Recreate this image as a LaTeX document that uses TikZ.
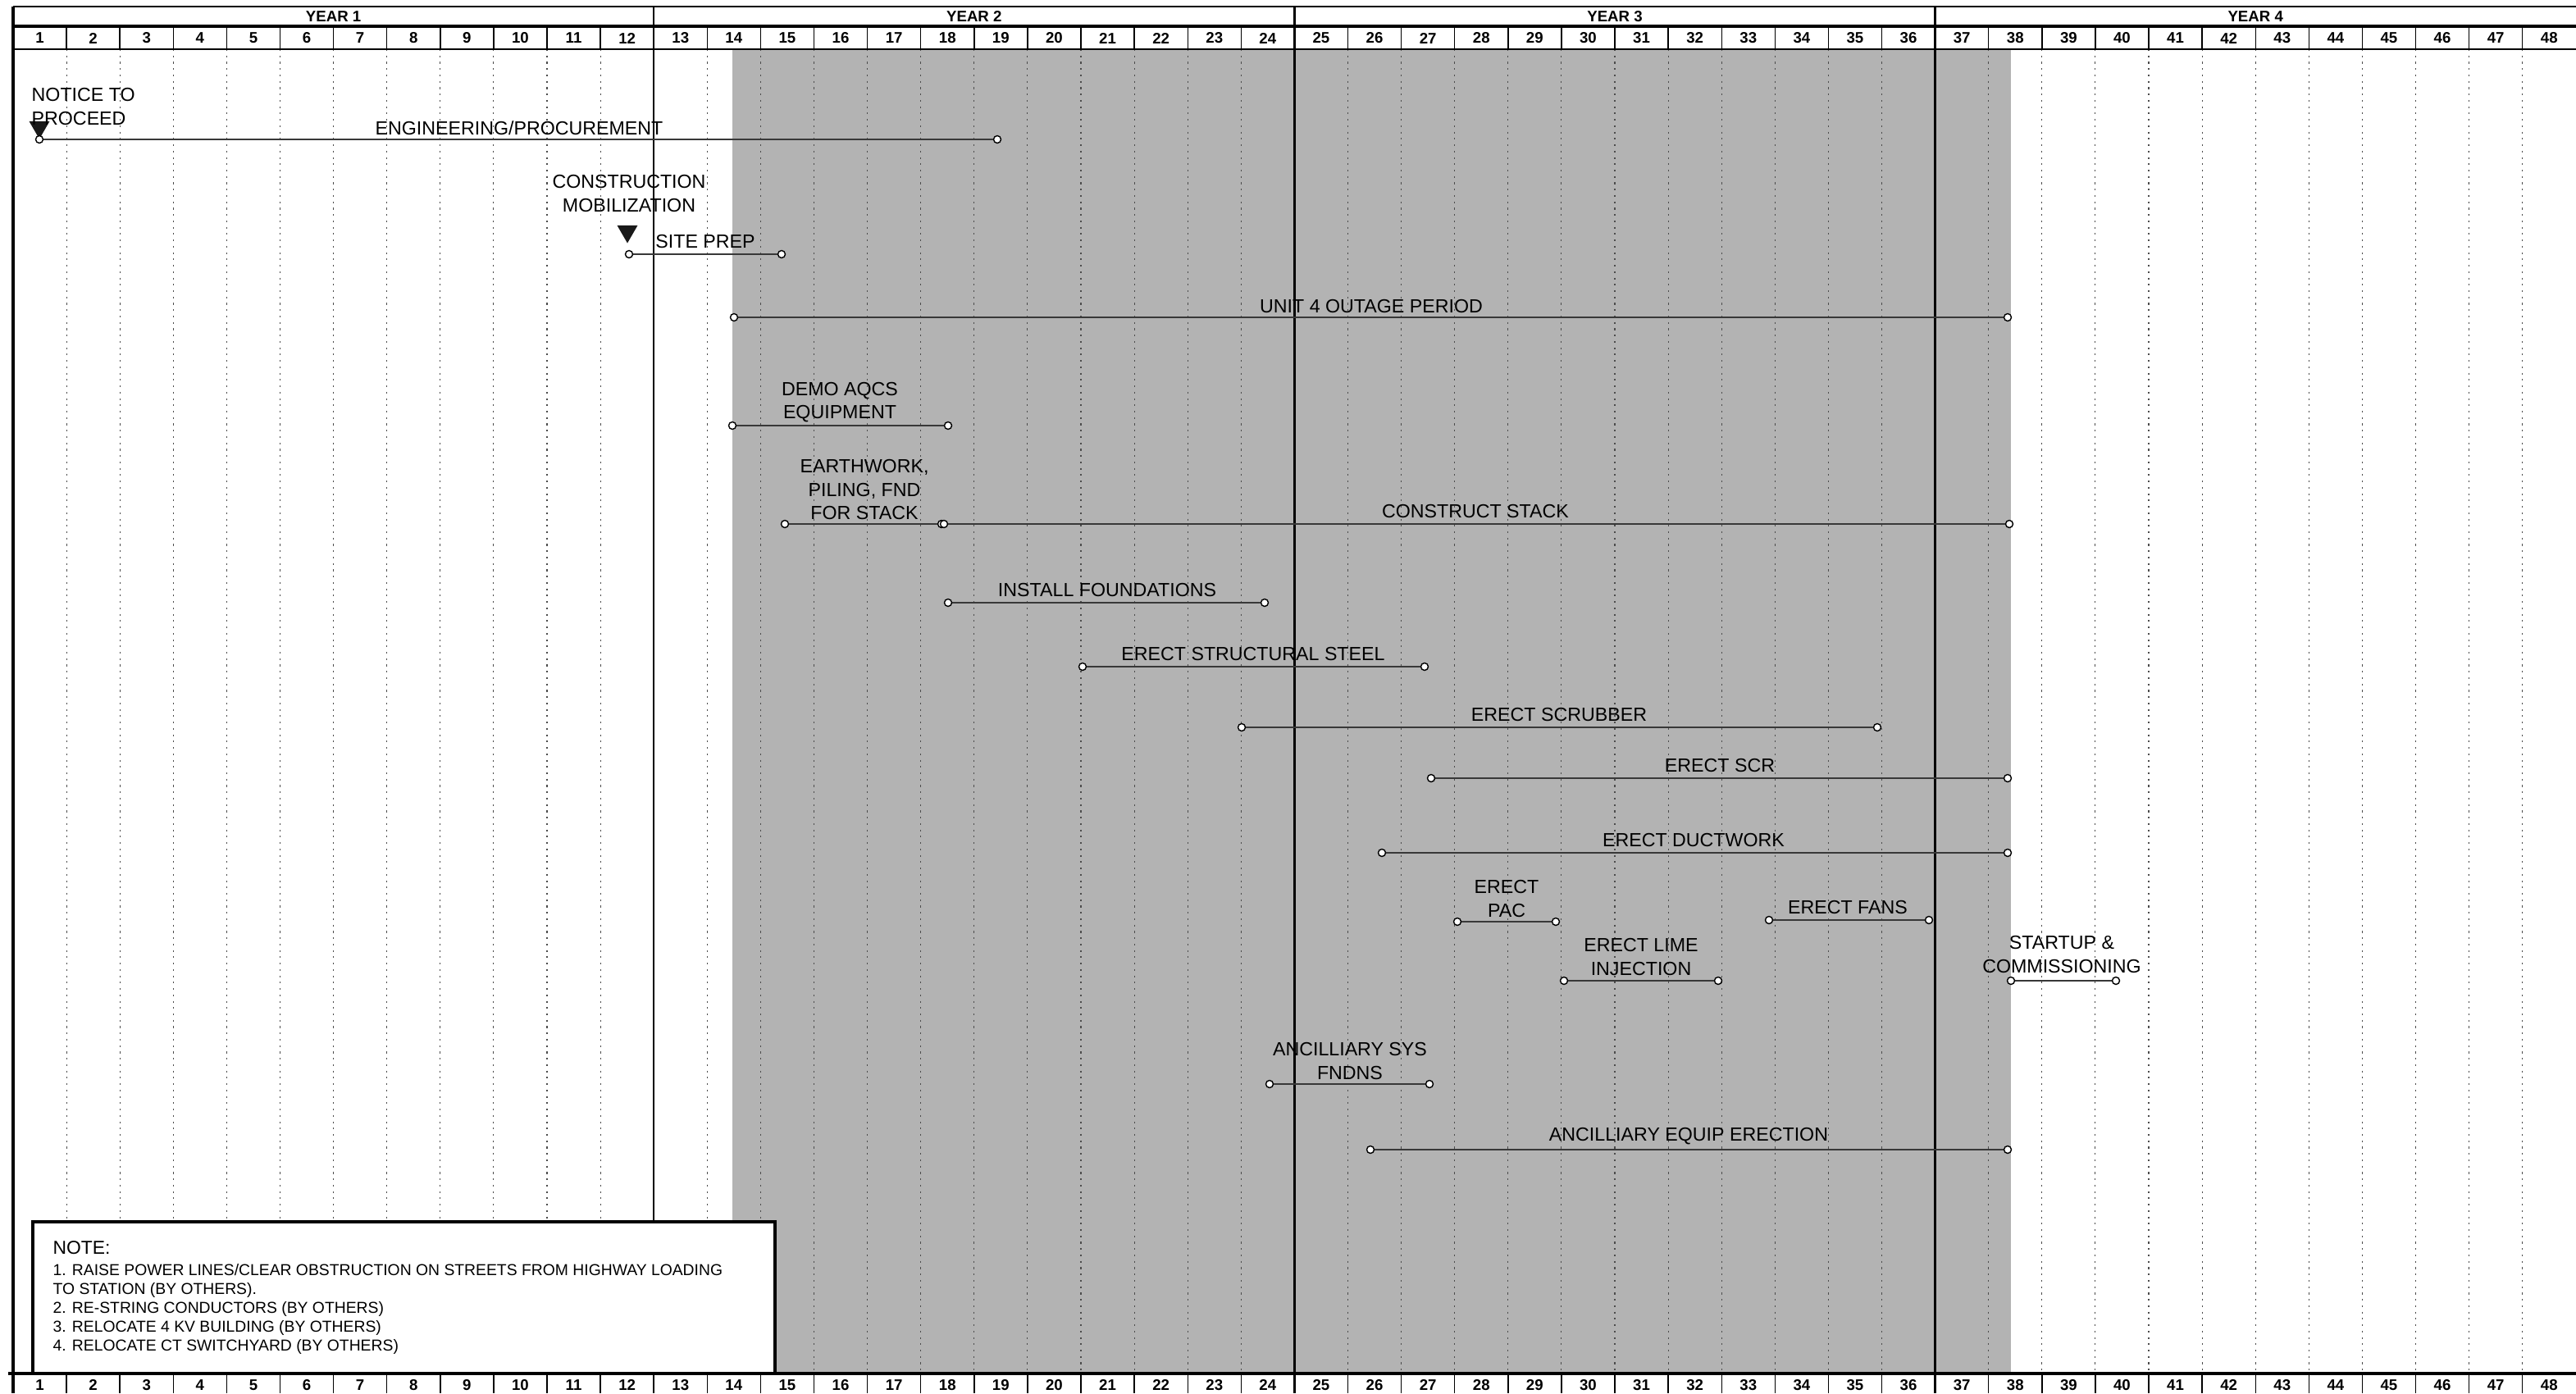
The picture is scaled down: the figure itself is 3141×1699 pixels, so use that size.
\documentclass[tikz,border=0pt]{standalone}
\usepackage{fontspec}
\setmainfont{Liberation Sans}
\usetikzlibrary{shapes.geometric}
\definecolor{outagegray}{RGB}{179,179,179}
\begin{document}
\begin{tikzpicture}[x=0.01cm,y=-0.01cm,
  lbl/.style={font=\fontsize{6.6}{8}\selectfont, align=center, inner sep=0pt},
  hdr/.style={font=\bfseries\fontsize{5.3}{6}\selectfont, inner sep=0pt},
  dot/.style={circle, draw=black, fill=white, inner sep=0pt, minimum size=0.09cm, line width=0.4pt},
  bar/.style={line width=0.55pt, draw=black!78},
  griddot/.style={line width=0.3pt, dash pattern=on 0.6pt off 1.6pt, draw=black!70},
  mile/.style={regular polygon, regular polygon sides=3, shape border rotate=180, fill=black!90, inner sep=0pt, minimum size=0.29cm},
  notebox/.style={draw=black, fill=white, line width=1.2pt}]
\useasboundingbox (0,0) rectangle (3141,1699);
% shaded outage region
\fill[outagegray] (893,60) rectangle (2452,1675);
% grid
\foreach \k in {1,...,47}{
  \pgfmathsetmacro\xx{16+65.1*\k}
  \draw[griddot] (\xx,60) -- (\xx,1675);
  \draw[line width=0.4pt] (\xx,32) -- (\xx,60);
  \draw[line width=0.4pt] (\xx,1675) -- (\xx,1699);
}
\foreach \k in {12,24,36}{
  \pgfmathsetmacro\xx{16+65.1*\k}
  \draw[line width=0.7pt] (\xx,8) -- (\xx,1699);
}
\draw[line width=0.6pt] (16,8) -- (3141,8);
\draw[line width=1.1pt] (16,32) -- (3141,32);
\draw[line width=0.7pt] (16,60) -- (3141,60);
\draw[line width=1.1pt] (10,1675) -- (3141,1675);
\draw[line width=1.1pt] (16,8) -- (16,1699);
% header labels
\foreach \n in {1,...,4}{
  \node[hdr] (yr\n) at ({16+65.1*(12*\n-6)},20) {YEAR \n};
}
\foreach \k in {1,...,48}{
  \node[hdr] (mt\k) at ({16+65.1*(\k-0.5)},46.5) {\k};
  \node[hdr] (mb\k) at ({16+65.1*(\k-0.5)},1689) {\k};
}
% milestones
\node[mile] (ntpm) at (48,155) {};
\node[lbl, align=left, anchor=west] (ntpl) at (38,130) {NOTICE TO\\PROCEED};
\node[lbl] (cml) at (767,236) {CONSTRUCTION\\MOBILIZATION};
\node[mile] (cmm) at (765,282) {};
% bars
\node[dot] (a1) at (48,170) {};
\node[dot] (a2) at (1216,170) {};
\draw[bar] (a1) -- (a2);
\node[lbl] (la) at (633,156) {ENGINEERING/PROCUREMENT};

\node[dot] (b1) at (767,310) {};
\node[dot] (b2) at (953,310) {};
\draw[bar] (b1) -- (b2);
\node[lbl] (lb) at (860,294) {SITE PREP};

\node[dot] (c1) at (895,387) {};
\node[dot] (c2) at (2448,387) {};
\draw[bar] (c1) -- (c2);
\node[lbl] (lc) at (1672,373) {UNIT 4 OUTAGE PERIOD};

\node[dot] (d1) at (893,519) {};
\node[dot] (d2) at (1156,519) {};
\draw[bar] (d1) -- (d2);
\node[lbl] (ld) at (1024,491) {DEMO AQCS\\EQUIPMENT};

\node[dot] (e1) at (957,639) {};
\node[dot] (e2) at (1148,639) {};
\draw[bar] (e1) -- (e2);
\node[lbl] (le) at (1054,597) {EARTHWORK,\\PILING, FND\\FOR STACK};

\node[dot] (f1) at (1151,639) {};
\node[dot] (f2) at (2450,639) {};
\draw[bar] (f1) -- (f2);
\node[lbl] (lf) at (1799,623) {CONSTRUCT STACK};

\node[dot] (g1) at (1156,735) {};
\node[dot] (g2) at (1542,735) {};
\draw[bar] (g1) -- (g2);
\node[lbl] (lg) at (1350,719) {INSTALL FOUNDATIONS};

\node[dot] (h1) at (1320,813) {};
\node[dot] (h2) at (1737,813) {};
\draw[bar] (h1) -- (h2);
\node[lbl] (lh) at (1528,797) {ERECT STRUCTURAL STEEL};

\node[dot] (i1) at (1514,887) {};
\node[dot] (i2) at (2289,887) {};
\draw[bar] (i1) -- (i2);
\node[lbl] (li) at (1901,871) {ERECT SCRUBBER};

\node[dot] (j1) at (1745,949) {};
\node[dot] (j2) at (2448,949) {};
\draw[bar] (j1) -- (j2);
\node[lbl] (lj) at (2097,933) {ERECT SCR};

\node[dot] (k1) at (1685,1040) {};
\node[dot] (k2) at (2448,1040) {};
\draw[bar] (k1) -- (k2);
\node[lbl] (lk) at (2065,1024) {ERECT DUCTWORK};

\node[dot] (l1) at (1777,1124) {};
\node[dot] (l2) at (1897,1124) {};
\draw[bar] (l1) -- (l2);
\node[lbl] (ll) at (1837,1096) {ERECT\\PAC};

\node[dot] (m1) at (2157,1122) {};
\node[dot] (m2) at (2352,1122) {};
\draw[bar] (m1) -- (m2);
\node[lbl] (lm) at (2253,1106) {ERECT FANS};

\node[dot] (n1) at (1907,1196) {};
\node[dot] (n2) at (2095,1196) {};
\draw[bar] (n1) -- (n2);
\node[lbl] (ln) at (2001,1167) {ERECT LIME\\INJECTION};

\node[dot] (o1) at (2452,1196) {};
\node[dot] (o2) at (2580,1196) {};
\draw[bar] (o1) -- (o2);
\node[lbl] (lo) at (2514,1164) {STARTUP \&\\COMMISSIONING};

\node[dot] (p1) at (1548,1322) {};
\node[dot] (p2) at (1743,1322) {};
\draw[bar] (p1) -- (p2);
\node[lbl] (lp) at (1646,1294) {ANCILLIARY SYS\\FNDNS};

\node[dot] (q1) at (1671,1402) {};
\node[dot] (q2) at (2448,1402) {};
\draw[bar] (q1) -- (q2);
\node[lbl] (lq) at (2059,1386) {ANCILLIARY EQUIP ERECTION};

% note box
\draw[notebox] (40,1490) rectangle (945,1675);
\node[font=\fontsize{6.5}{7.5}\selectfont, anchor=west, inner sep=0pt] (nt) at (64,1522) {NOTE:};
\node[font=\fontsize{5.5}{6.55}\selectfont, align=left, anchor=north west, inner sep=0pt] (nb) at (64,1541)
  {1. RAISE POWER LINES/CLEAR OBSTRUCTION ON STREETS FROM HIGHWAY LOADING\\
   TO STATION (BY OTHERS).\\
   2. RE-STRING CONDUCTORS (BY OTHERS)\\
   3. RELOCATE 4 KV BUILDING (BY OTHERS)\\
   4. RELOCATE CT SWITCHYARD (BY OTHERS)};
\end{tikzpicture}
\end{document}
